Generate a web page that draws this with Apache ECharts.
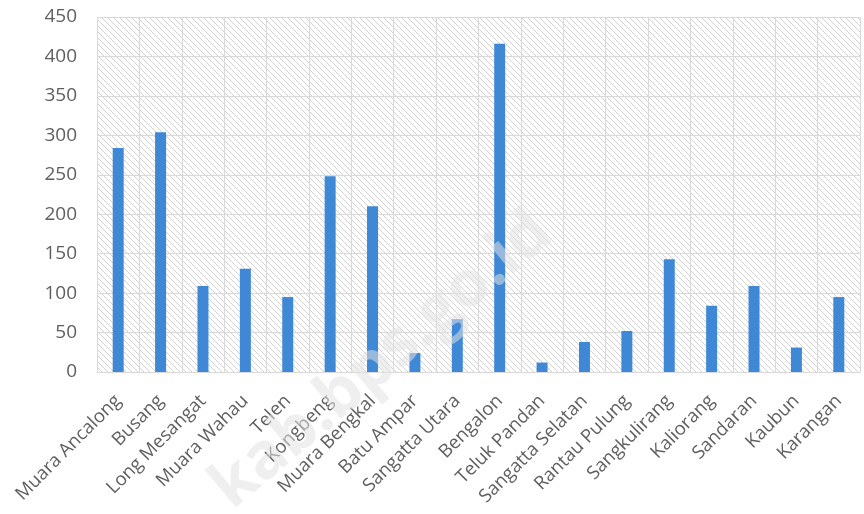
<!DOCTYPE html>
<html><head><meta charset="utf-8">
<script src="https://cdn.jsdelivr.net/npm/echarts@6/dist/echarts.min.js"></script>
<style>html,body{margin:0;padding:0;background:#fff}#c{width:864px;height:514px}</style>
</head><body><div id="c"></div>
<script>
const categories = ["Muara Ancalong","Busang","Long Mesangat","Muara Wahau","Telen","Kongbeng","Muara Bengkal","Batu Ampar","Sangatta Utara","Bengalon","Teluk Pandan","Sangatta Selatan","Rantau Pulung","Sangkulirang","Kaliorang","Sandaran","Kaubun","Karangan"];
const values = [284,304,109,131,95,248,210,24,67,416,12,38,52,143,84,109,31,95];
const yTicks = [0,50,100,150,200,250,300,350,400,450];

function hatch(){
  const c = document.createElement('canvas');
  c.width = 6; c.height = 6;
  const g = c.getContext('2d');
  g.fillStyle = '#ffffff'; g.fillRect(0,0,6,6);
  g.strokeStyle = '#d2d2d2'; g.lineWidth = 1;
  g.beginPath();
  g.moveTo(-1,-1); g.lineTo(7,7);
  g.moveTo(-1,5); g.lineTo(1,7);
  g.moveTo(5,-1); g.lineTo(7,1);
  g.stroke();
  return c;
}

const chart = echarts.init(document.getElementById('c'));
chart.setOption({
  animation:false,
  graphic:[{type:'text', left:200, top:200, rotation:0.70,
    style:{text:'kab.bps.go.id', fill:'rgba(225,225,225,0.55)', font:'bold 64px "Open Sans"'}, z:100}],
  grid:{left:97,right:4,top:17,bottom:142,show:true,borderWidth:0,
    backgroundColor:{image:hatch(), repeat:'repeat'}},
  xAxis:{type:'category',data:categories,
    axisLine:{lineStyle:{color:'#d9d9d9'}},
    axisTick:{show:false},
    splitLine:{show:true,lineStyle:{color:'#d9d9d9'}},
    axisLabel:{rotate:45,interval:0,color:'#5f5f5f',fontSize:18.5,fontFamily:'"Open Sans", sans-serif',margin:26}},
  yAxis:{type:'value',min:0,max:450,interval:50,
    axisLine:{show:false},axisTick:{show:false},
    splitLine:{lineStyle:{color:'#d9d9d9'}},
    axisLabel:{color:'#5f5f5f',fontSize:19,fontFamily:'"Open Sans", sans-serif',margin:20,
      formatter:v=>yTicks.includes(v)?String(v):''}},
  series:[{type:'bar',data:values,barWidth:11,itemStyle:{color:'#3f88d6'}}]
});
</script></body></html>
